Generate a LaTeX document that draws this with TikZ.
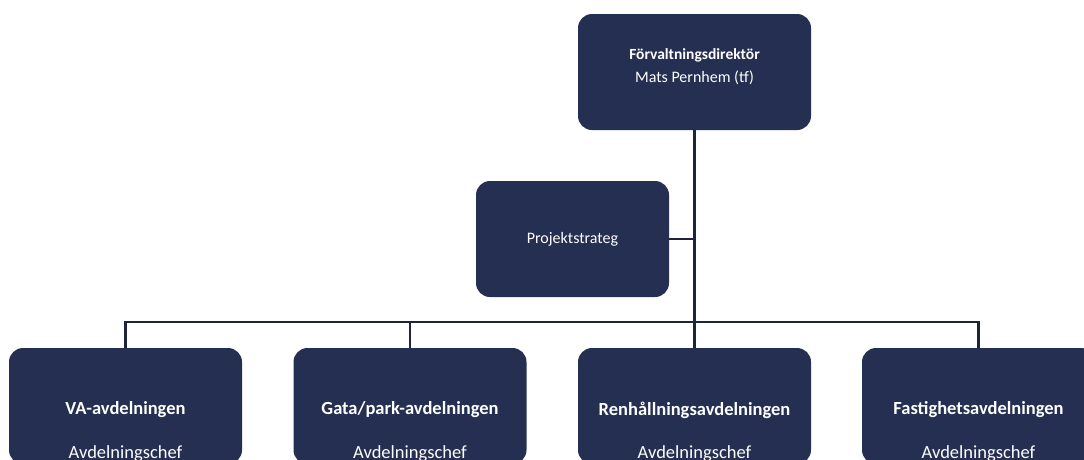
\documentclass[tikz,border=0pt]{standalone}
\usepackage{fontspec}
\setmainfont{Carlito}
\usetikzlibrary{positioning}
\definecolor{navy}{RGB}{37,47,81}
\definecolor{linje}{RGB}{30,36,58}

\begin{document}
\begin{tikzpicture}[x=1pt,y=-1pt,
    box/.style={fill=navy,rounded corners=14pt,minimum width=233pt,minimum height=116pt,inner sep=0pt},
    txt/.style={text=white,font=\fontsize{16}{19}\selectfont,align=center},
    rubrik/.style={txt,font=\fontsize{15.5}{19}\selectfont\bfseries},
    stor/.style={txt,font=\fontsize{18.5}{22}\selectfont},
    storrubrik/.style={txt,font=\fontsize{18.5}{22}\selectfont\bfseries},
    conn/.style={draw=linje,line width=2.6pt}]
  \useasboundingbox (0,0) rectangle (1084,459);
  % chef
  \node[box] (dir) at (694.5,72) {};
  \node[rubrik] (dirt) at (694.5,55) {Förvaltningsdirektör};
  \node[txt] (dirn) at (694.5,78) {Mats Pernhem (tf)};
  % stab
  \node[box,minimum width=193pt] (proj) at (572.5,239) {};
  \node[txt] at (proj.center) {Projektstrateg};
  % avdelningar
  \node[box] (va) at (125.5,406) {};
  \node[box] (gata) at (410,406) {};
  \node[box] (renh) at (694.5,406) {};
  \node[box] (fast) at (978.5,406) {};
  \node[storrubrik] at (125.5,410) {VA-avdelningen};
  \node[storrubrik] at (410,410) {Gata/park-avdelningen};
  \node[storrubrik] at (694.5,410) {Renhållningsavdelningen};
  \node[storrubrik] at (978.5,410) {Fastighetsavdelningen};
  \node[stor] at (125.5,454) {Avdelningschef};
  \node[stor] at (410,454) {Avdelningschef};
  \node[stor] at (694.5,454) {Avdelningschef};
  \node[stor] at (978.5,454) {Avdelningschef};
  % linjer
  \coordinate (bus) at (0,322);
  \draw[conn] (dir.south) -- (renh.north);
  \draw[conn] (proj.east) -- (proj.east -| dir.south);
  \draw[conn] (va.north) -- (va.north |- bus) -| (fast.north);
  \draw[conn] (gata.north) -- (gata.north |- bus);
\end{tikzpicture}
\end{document}
